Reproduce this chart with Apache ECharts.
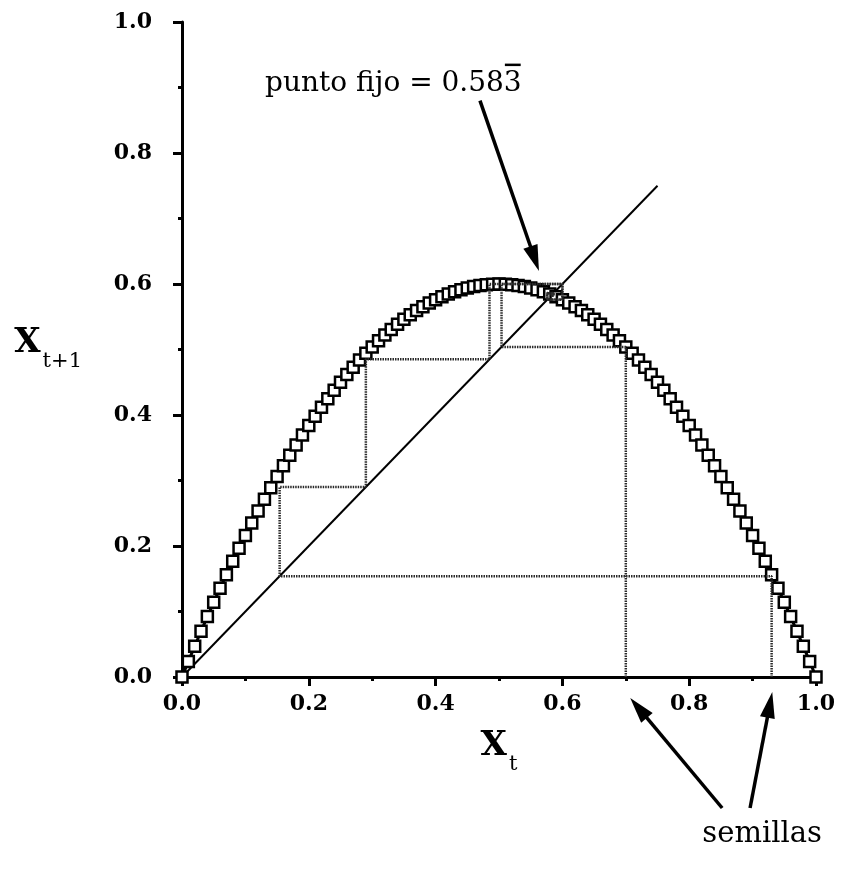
<!DOCTYPE html>
<html>
<head>
<meta charset="utf-8">
<script src="https://cdn.jsdelivr.net/npm/echarts@6.0.0/dist/echarts.min.js"></script>
<style>
  html, body { margin: 0; padding: 0; background: #fff; }
  #chart { width: 844px; height: 872px; }
</style>
</head>
<body>
<div id="chart"></div>
<script>
// Logistic map x(t+1) = r x(t) (1 - x(t)), r = 2.4, sampled every 0.01
const xs = [
  0.00, 0.01, 0.02, 0.03, 0.04, 0.05, 0.06, 0.07, 0.08, 0.09,
  0.10, 0.11, 0.12, 0.13, 0.14, 0.15, 0.16, 0.17, 0.18, 0.19,
  0.20, 0.21, 0.22, 0.23, 0.24, 0.25, 0.26, 0.27, 0.28, 0.29,
  0.30, 0.31, 0.32, 0.33, 0.34, 0.35, 0.36, 0.37, 0.38, 0.39,
  0.40, 0.41, 0.42, 0.43, 0.44, 0.45, 0.46, 0.47, 0.48, 0.49,
  0.50, 0.51, 0.52, 0.53, 0.54, 0.55, 0.56, 0.57, 0.58, 0.59,
  0.60, 0.61, 0.62, 0.63, 0.64, 0.65, 0.66, 0.67, 0.68, 0.69,
  0.70, 0.71, 0.72, 0.73, 0.74, 0.75, 0.76, 0.77, 0.78, 0.79,
  0.80, 0.81, 0.82, 0.83, 0.84, 0.85, 0.86, 0.87, 0.88, 0.89,
  0.90, 0.91, 0.92, 0.93, 0.94, 0.95, 0.96, 0.97, 0.98, 0.99,
  1.00
];
const ys = [
  0.0000, 0.0238, 0.0470, 0.0698, 0.0922, 0.1140, 0.1354, 0.1562, 0.1766, 0.1966,
  0.2160, 0.2350, 0.2534, 0.2714, 0.2890, 0.3060, 0.3226, 0.3386, 0.3542, 0.3694,
  0.3840, 0.3982, 0.4118, 0.4250, 0.4378, 0.4500, 0.4618, 0.4730, 0.4838, 0.4942,
  0.5040, 0.5134, 0.5222, 0.5306, 0.5386, 0.5460, 0.5530, 0.5594, 0.5654, 0.5710,
  0.5760, 0.5806, 0.5846, 0.5882, 0.5914, 0.5940, 0.5962, 0.5978, 0.5990, 0.5998,
  0.6000, 0.5998, 0.5990, 0.5978, 0.5962, 0.5940, 0.5914, 0.5882, 0.5846, 0.5806,
  0.5760, 0.5710, 0.5654, 0.5594, 0.5530, 0.5460, 0.5386, 0.5306, 0.5222, 0.5134,
  0.5040, 0.4942, 0.4838, 0.4730, 0.4618, 0.4500, 0.4378, 0.4250, 0.4118, 0.3982,
  0.3840, 0.3694, 0.3542, 0.3386, 0.3226, 0.3060, 0.2890, 0.2714, 0.2534, 0.2350,
  0.2160, 0.1966, 0.1766, 0.1562, 0.1354, 0.1140, 0.0922, 0.0698, 0.0470, 0.0238,
  0.0000
];

// Identity line x(t+1) = x(t)
const diagonal = [0, 0.75];

// Successive iterates starting from the two seeds
const orbitA = [0.70, 0.504, 0.600, 0.5760, 0.5861, 0.5822, 0.5838, 0.5832, 0.5834];
const orbitB = [0.93, 0.154, 0.290, 0.485, 0.600, 0.5764, 0.5860, 0.5823, 0.5838, 0.5832, 0.5834];

// Staircase path: (x0,0) -> (x0,x1) -> (x1,x1) -> (x1,x2) -> ...
function cobweb(orbit) {
  const pts = [[orbit[0], 0]];
  for (let i = 0; i < orbit.length - 1; i++) {
    pts.push([orbit[i], orbit[i + 1]]);
    pts.push([orbit[i + 1], orbit[i + 1]]);
  }
  return pts;
}

const FONT = 'DejaVu Serif';
const chart = echarts.init(document.getElementById('chart'), null, { renderer: 'canvas' });

function axisCommon() {
  return {
    type: 'value',
    min: 0,
    max: 1,
    interval: 0.2,
    axisLine: { show: true, onZero: false, lineStyle: { color: '#000', width: 3 } },
    axisTick: { show: true, length: 9, lineStyle: { color: '#000', width: 3 } },
    minorTick: { show: true, splitNumber: 2, length: 4, lineStyle: { color: '#000', width: 3 } },
    splitLine: { show: false },
    axisLabel: {
      color: '#000',
      fontFamily: FONT,
      fontWeight: 'bold',
      fontSize: 22,
      formatter: v => v.toFixed(1)
    }
  };
}

// Axis titles: large X with a lowered subscript
function nameRich() {
  return {
    x: { fontFamily: FONT, fontWeight: 'bold', fontSize: 34, lineHeight: 34, verticalAlign: 'top', color: '#000' },
    s: { fontFamily: FONT, fontSize: 21, lineHeight: 46, verticalAlign: 'bottom', color: '#000', padding: [0, 0, 0, 2] }
  };
}

const xAxis = Object.assign(axisCommon(), {
  name: '{x|X}{s|t}',
  nameLocation: 'middle',
  nameGap: 52,
  nameTextStyle: { rich: nameRich() }
});
xAxis.axisLabel.margin = 16;

const yAxis = Object.assign(axisCommon(), {
  name: '{x|X}{s|t+1}',
  nameLocation: 'middle',
  nameRotate: 0,
  nameGap: 100,
  nameTextStyle: { rich: nameRich() }
});
yAxis.axisLabel.margin = 30;

const dotted = { color: '#2a2a2a', width: 2.5, type: [1.5, 1] };

chart.setOption({
  animation: false,
  backgroundColor: '#fff',
  grid: { left: 182, right: 28, top: 22, bottom: 195, containLabel: false },
  xAxis: xAxis,
  yAxis: yAxis,
  series: [
    {
      name: 'identidad',
      type: 'line',
      data: [[diagonal[0], diagonal[0]], [diagonal[1], diagonal[1]]],
      symbol: 'none',
      lineStyle: { color: '#000', width: 2 },
      z: 2
    },
    {
      name: 'f(x)',
      type: 'line',
      data: xs.map((x, i) => [x, ys[i]]),
      symbol: 'rect',
      symbolSize: 11,
      showAllSymbol: true,
      itemStyle: { color: '#fff', borderColor: '#000', borderWidth: 2.5 },
      lineStyle: { color: '#000', width: 3 },
      z: 3
    },
    {
      name: 'semilla 0.70',
      type: 'line',
      data: cobweb(orbitA),
      symbol: 'none',
      lineStyle: dotted,
      z: 4
    },
    {
      name: 'semilla 0.93',
      type: 'line',
      data: cobweb(orbitB),
      symbol: 'none',
      lineStyle: dotted,
      z: 4
    }
  ]
});

// Annotations, positioned in data units and converted to pixels
const notes = {
  fixedText: { at: [0.131, 0.906], text: 'punto fijo = 0.58', repeating: '3' },
  seedText: { at: [0.915, -0.240], text: 'semillas' },
  arrows: [
    { from: [0.470, 0.880], to: [0.563, 0.620] },
    { from: [0.852, -0.200], to: [0.707, -0.032] },
    { from: [0.896, -0.200], to: [0.931, -0.023] }
  ]
};

function px(p) { return chart.convertToPixel({ gridIndex: 0 }, p); }

function arrow(a) {
  const p0 = px(a.from), p1 = px(a.to);
  const dx = p1[0] - p0[0], dy = p1[1] - p0[1];
  const len = Math.sqrt(dx * dx + dy * dy);
  const ux = dx / len, uy = dy / len;
  const head = 26, half = 7.5;
  const bx = p1[0] - ux * head, by = p1[1] - uy * head;
  return [
    {
      type: 'line',
      shape: { x1: p0[0], y1: p0[1], x2: bx + ux * 2, y2: by + uy * 2 },
      style: { stroke: '#000', lineWidth: 3.5 },
      z: 10
    },
    {
      type: 'polygon',
      shape: { points: [[p1[0], p1[1]], [bx - uy * half, by + ux * half], [bx + uy * half, by - ux * half]] },
      style: { fill: '#000' },
      z: 10
    }
  ];
}

// Text measurement for the bar over the repeating digit
const fixedFont = '28px "' + FONT + '"';
const measureCtx = document.createElement('canvas').getContext('2d');
measureCtx.font = fixedFont;
measureCtx.textBaseline = 'middle';
const prefixW = measureCtx.measureText(notes.fixedText.text).width;
const fullW = measureCtx.measureText(notes.fixedText.text + notes.fixedText.repeating).width;
const digitTop = measureCtx.measureText(notes.fixedText.repeating).actualBoundingBoxAscent || 10;

const fixedPos = px(notes.fixedText.at);
const seedPos = px(notes.seedText.at);
const barY = fixedPos[1] - digitTop - 5;
let elements = [
  {
    type: 'text',
    x: fixedPos[0], y: fixedPos[1],
    style: { text: notes.fixedText.text + notes.fixedText.repeating, font: fixedFont, fill: '#000', textAlign: 'left', textVerticalAlign: 'middle' },
    z: 10
  },
  {
    type: 'line',
    shape: { x1: fixedPos[0] + prefixW + 1, y1: barY, x2: fixedPos[0] + fullW - 1, y2: barY },
    style: { stroke: '#000', lineWidth: 2.5 },
    z: 10
  },
  {
    type: 'text',
    x: seedPos[0], y: seedPos[1],
    style: { text: notes.seedText.text, font: '29px "' + FONT + '"', fill: '#000', textAlign: 'center', textVerticalAlign: 'middle' },
    z: 10
  }
];
notes.arrows.forEach(a => { elements = elements.concat(arrow(a)); });

chart.setOption({ graphic: { elements: elements } });
</script>
</body>
</html>
